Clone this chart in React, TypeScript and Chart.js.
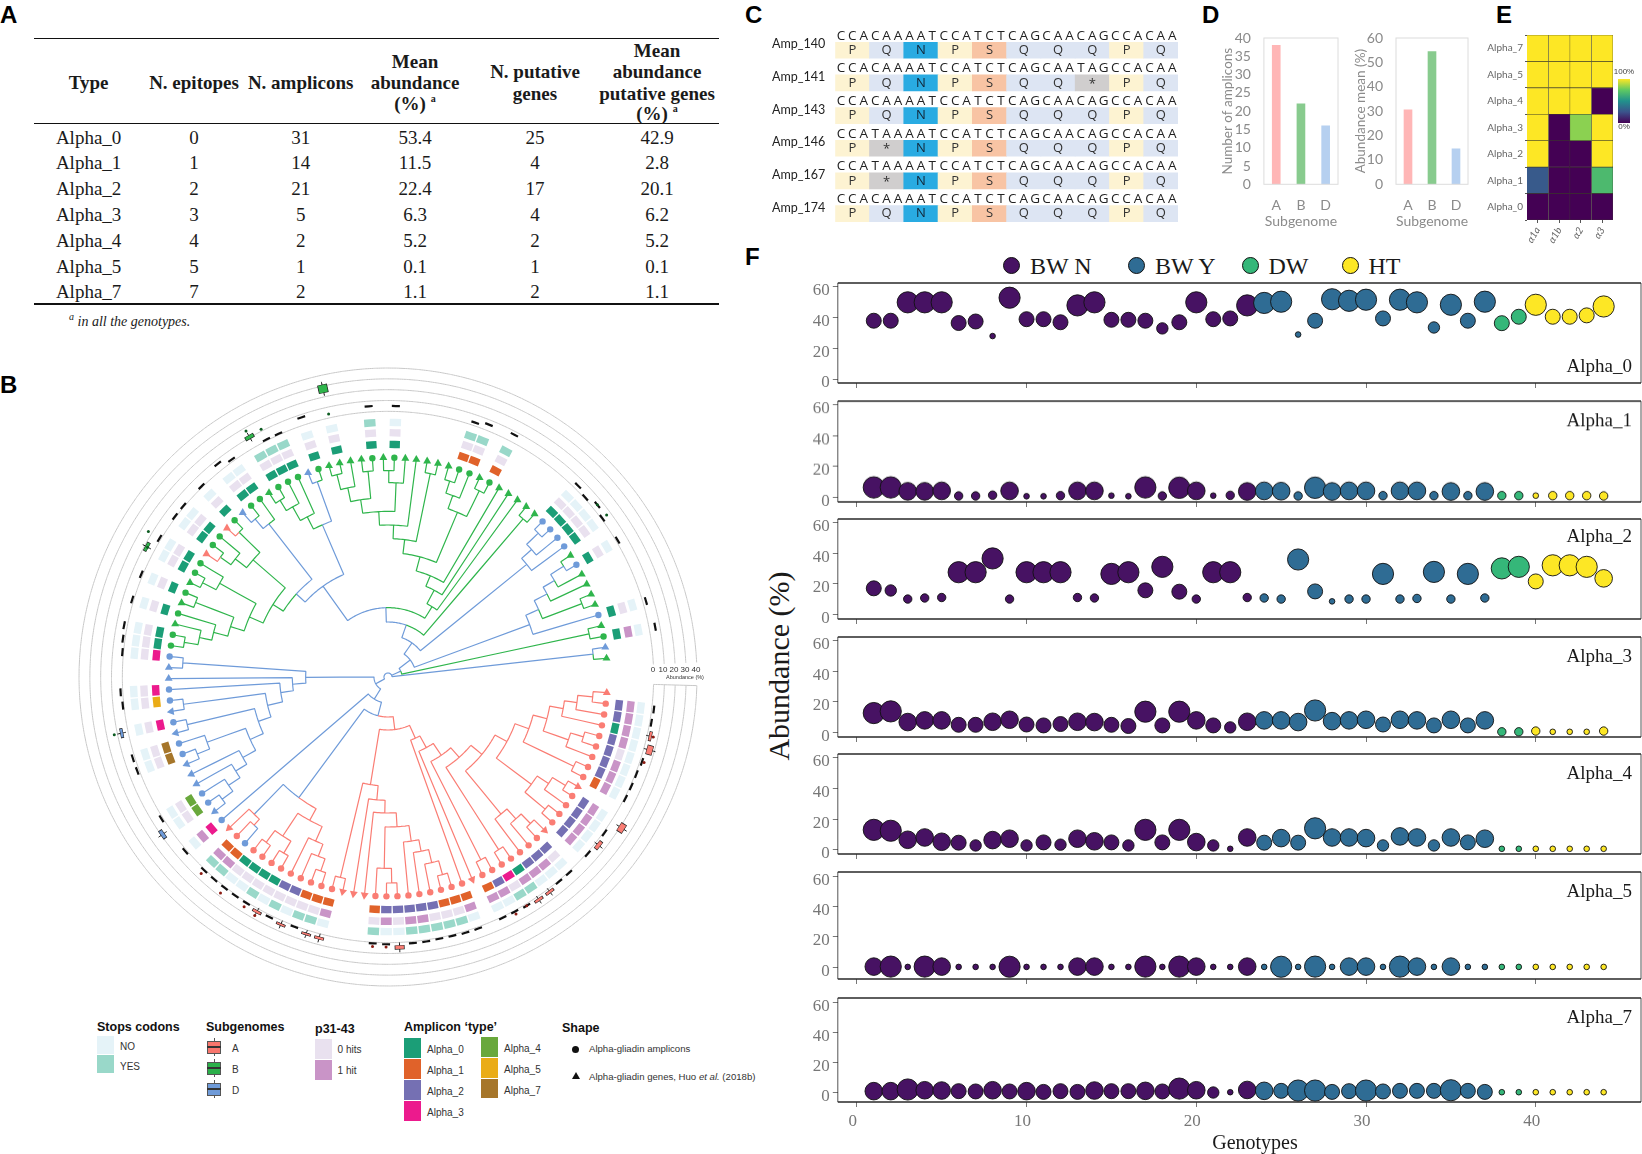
import React, { useEffect, useRef } from 'react';
import { Chart, registerables } from 'chart.js';
Chart.register(...registerables);

/* ---------- Panel A: table ---------- */
const tableTypes = ['Alpha_0', 'Alpha_1', 'Alpha_2', 'Alpha_3', 'Alpha_4', 'Alpha_5', 'Alpha_7'];
const tableEpitopes = ['0', '1', '2', '3', '4', '5', '7'];
const tableAmplicons = ['31', '14', '21', '5', '2', '1', '2'];
const tableMean = ['53.4', '11.5', '22.4', '6.3', '5.2', '0.1', '1.1'];
const tableGenes = ['25', '4', '17', '4', '2', '1', '2'];
const tableGenesMean = ['42.9', '2.8', '20.1', '6.2', '5.2', '0.1', '1.1'];

/* ---------- Panel C: alignment ---------- */
const ampNames = ['Amp_140', 'Amp_141', 'Amp_143', 'Amp_146', 'Amp_167', 'Amp_174'];
const dnaRows = [
  'CCACAAAATCCATCTCAGCAACAGCCACAA',
  'CCACAAAATCCATCTCAGCAATAGCCACAA',
  'CCACAAAATCCATCTCAGCAACAGCCACAA',
  'CCATAAAATCCATCTCAGCAACAGCCACAA',
  'CCATAAAATCCATCTCAGCAACAGCCACAA',
  'CCACAAAATCCATCTCAGCAACAGCCACAA',
];
const proteinRows = ['PQNPSQQQPQ', 'PQNPSQQ*PQ', 'PQNPSQQQPQ', 'P*NPSQQQPQ', 'P*NPSQQQPQ', 'PQNPSQQQPQ'];

/* ---------- Panel D ---------- */
const subgenomes = ['A', 'B', 'D'];
const ampliconCounts = [38, 22, 16];
const abundanceMeans = [30.5, 54.4, 14.5];

/* ---------- Panel E ---------- */
const heatRows = ['Alpha_7', 'Alpha_5', 'Alpha_4', 'Alpha_3', 'Alpha_2', 'Alpha_1', 'Alpha_0'];
const heatCols = ['α1a', 'α1b', 'α2', 'α3'];
const heatA1a = [100, 100, 100, 100, 100, 28, 0];
const heatA1b = [100, 100, 100, 0, 0, 0, 0];
const heatA2 = [100, 100, 100, 82, 0, 0, 0];
const heatA3 = [100, 100, 0, 100, 100, 68, 0];

/* ---------- Panel F: bubbles (value and size class per genotype) ---------- */
const genotypes = [1,2,3,4,5,6,7,8,9,10,11,12,13,14,15,16,17,18,19,20,21,22,23,24,25,26,27,28,29,30,31,32,33,34,35,36,37,38,39,40,41,42,43,44];
const alpha0Values = [38,38,50,50,50,36.5,37.5,28,53,39, 39,37,48,50,38.6,38.6,38,33,37,50, 39,39.5,48,49.6,50.4,29,38,52,51,51.7, 39.5,51.7,50,33.6,48.4,38,50.4,36.4,40.6,48.4, 40.6,40.6,41.5,47.3];
const alpha0Classes = [5,5,7,7,7,5,5,2,7,5, 5,5,7,7,5,5,5,4,5,7, 5,5,7,7,7,2,5,7,7,7, 5,7,7,4,7,5,7,5,5,7, 5,5,5,7];
const alpha1Values = [6.5,6.5,4,4,4.3,1,1,1.5,4.3,.8, .8,1.2,4.3,4.3,1.2,.8,6.5,1,6.3,4.3, 1.2,1.4,3.9,4.3,4.1,1,6.3,3.9,4.3,4.3, 1.2,4.3,4.3,1.2,3.9,1.2,3.9,1.2,1.2,1.2, 1.2,1.2,1.2,1];
const alpha1Classes = [7,7,6,6,6,3,3,3,6,2, 2,3,6,6,2,2,7,3,7,6, 2,3,6,6,6,3,7,6,6,6, 3,6,6,3,6,3,6,3,3,2, 3,3,3,3];
const alpha2Values = [17,15.6,10,10.7,11,27.5,27.5,36.5,10,27.5, 27.5,27.5,11,10.7,26.4,27.5,15.7,31,14.8,10, 27.5,27.5,11,10.7,10,35.8,15,8.5,10,10, 26.4,10,10.4,27.7,10,26.4,10.7,30,31,21.5, 32,32,31,23.5];
const alpha2Classes = [5,4,3,3,3,7,7,7,3,7, 7,7,3,3,7,7,5,7,5,3, 7,7,3,3,3,7,5,2,3,3, 7,3,3,7,3,7,3,7,7,5, 7,7,7,6];
const alpha3Values = [12.7,13.8,6.8,7.9,7.9,5,5,7,8.3,5.2, 4.6,5.5,7,6.8,5,4.2,13.6,4.6,13.6,7.9, 4.6,3.3,7,7.9,7.9,6.8,14.4,7.4,7.9,8.3, 5.2,8.3,7.9,4.6,8.3,4.6,7.9,.4,.4,.9, .4,.4,.4,.9];
const alpha3Classes = [7,7,6,6,6,5,5,6,6,5, 5,5,6,6,5,5,7,5,7,6, 5,4,6,6,6,6,7,6,6,6, 5,6,6,5,6,5,6,3,3,3, 2,2,2,3];
const alpha4Values = [13,12.4,6.5,8,5.2,4.6,2.8,6.3,7.2,2.8, 4.8,3.3,7.2,5.5,4.8,2.8,13,4.8,13,5, 2.8,.6,8,4.6,7.6,4.6,14,8,8,7.6, 2.8,8.7,8,2.8,8,4.8,7.2,.6,.6,.6, .6,.6,.6,.6];
const alpha4Classes = [7,7,6,6,6,5,4,6,6,4, 5,4,6,6,5,4,7,5,7,6, 4,2,6,5,6,5,7,6,6,6, 4,6,6,4,6,5,6,2,2,2, 2,2,2,2];
const alpha5Values = [.4,.4,.2,.4,.4,.2,.2,.2,.3,.2, .2,.2,.4,.4,.2,.2,.4,.2,.4,.4, .2,.2,.4,.2,.3,.2,.4,.2,.4,.4, .2,.4,.4,.2,.4,.2,.2,.2,.2,.2, .2,.2,.2,.2];
const alpha5Classes = [6,7,2,7,6,2,2,2,7,2, 2,2,6,6,2,2,7,2,7,6, 2,2,6,2,7,2,7,2,6,6, 2,7,6,2,6,2,2,2,2,2, 2,2,2,2];
const alpha7Values = [.9,.9,2,1.5,1.3,.9,.7,1.5,.7,.9, .4,.9,.4,1.3,.9,.9,1.1,.7,2.6,1.5, 0,.2,1.7,1.1,1.1,1.3,1.3,.4,.9,1.3, .7,1.1,1.1,1.1,1.5,1.1,.4,.2,.2,.2, .2,.2,.2,.2];
const alpha7Classes = [6,6,7,6,6,5,5,6,5,6, 5,5,5,6,5,5,6,5,7,6, 4,2,6,6,5,7,7,5,5,7, 5,5,5,5,7,5,5,2,2,2, 2,2,2,2];
const genotypeGroups = ['BW N', 'BW Y', 'DW', 'HT'];
const groupFirstGenotype = [1, 24, 38, 40];

/* ---------- Panel B: tree tips, rings, box plots ---------- */
const tipClade = 'rrrrrrrrrr' + 'rrrrrrrrrr' + 'rrrrrrrrrr' + 'rrrrrrrrrr' + 'rrrrbrrbbb' + 'bbbbbbbbbb' + 'bbbbgggggg' + 'gggrggrgbg' + 'gggggbgggg' + 'gggggggggg' + 'ggggggggbb' + 'bbgbggggbg' + 'gbg';
const tipShape = 'TCCCCCCCCT' + 'CCCCTCCCCC' + 'CCTCCCCCCC' + 'CCTTTCCCCC' + 'CCCCCCTCTC' + 'CTTTCCTCTC' + 'CTTCCCTCTC' + 'TCCTCCTCTC' + 'CTCCCTCTTT' + 'TCTCTTTTTC' + 'CTCTTTTTCC' + 'CCTCTTTTCT' + 'CTT';
const typeRing = '.22022221.' + '2222.22203' + '21.1112222' + '21...11122' + '000011.3.4' + '4...77.3.5' + '3..300.0.0' + '.00.00.0.0' + '0.000.0.0.' + '.0.0.....1' + '1.1.....00' + '00.0....0.' + '0..';
const pepRing = '.11110111.' + '1111.01110' + '11.1000110' + '10...10000' + '000011.1.0' + '0...00.0.0' + '0..000.0.0' + '.00.00.0.0' + '0.000.0.0.' + '.0.0.....0' + '0.0.....00' + '00.0....0.' + '1..';
const stopRing = '.00000000.' + '0000.00011' + '00.0111110' + '01...01101' + '010011.0.0' + '0...00.0.0' + '0..000.0.0' + '.00.00.0.0' + '0.111.0.0.' + '.1.0.....1' + '1.1.....00' + '00.0....0.' + '0..';
const boxMedian = [
  0,2,1.5,3,5,2,1,1,1,0, 11.5,1,3.3,1,0,1,1,3,3,1.7, 1,1,0,1.5,1.5,1,1,1.5,1.5,4.5,
  1.5,1,0,0,0,4,3.7,1,3.7,2, 3,1,1,1,1,1,0,1.5,0,8.6, 1.5,0,0,0,2,2,0,6,0,1,
  2,0,0,1,2,3,0,1.5,0,1.5, 0,7.8,1.5,0,1,1,0,1,0,6.6, 2,0,10.6,1,1,0,7.4,0,27,0,
  0,5.3,0,5,0,0,0,0,0,3, 5.7,0,7,0,0,0,0,0,3.7,1, 5,1,0,1.5,0,0,0,0,3,0, 5.7,0,0,
];
const boxTips = [88, 82, 49, 57, 71, 3, 4, 10, 12, 17, 18, 29, 35, 36, 38, 40];
const boxLow = [24, 9, 7, 5, 6.5, 2, 3, 9, 2, 2, 2, 3, 3, 3, 3, 2];
const boxHigh = [31, 12, 10, 7, 9, 4, 8, 14, 5, 4, 4, 6, 5, 4.5, 4.5, 4];
const outlierTips = [83, 82, 88, 72, 71, 111, 110, 31, 30, 43, 45, 40, 41, 5, 3, 20, 19, 57];
const outlierValues = [11.8, 17, 3.7, 13.5, 7, 6, 5, 4, 4, 7, 5, 7, 5, 4, 5.7, 3.5, 1.7, 13];
const abundanceTicks = [0, 10, 20, 30, 40];

/* Tree: [optional clade letter, branching depth, ...children]; a number child is a tip */
const redLeft = [327,[618,35,34],[370,33,[408,32,[450,[574,31,[618,30,29]],[497,28,[532,27,[572,26,[615,25,24]]]]]]]];
const redRightA = [450,[493,[534,[572,[617,0,1],2],3],[573,[613,4,5],6]],[618,7,8]];
const redRightB = [537,[578,[624,9,10],11],[616,12,13]];
const redUpper = [365,[406,redRightA,redRightB],[533,[573,[613,14,15],16],17]];
const redCore = ['r',159,[201,[241,[284,[322,redUpper,[615,18,19]],[615,20,21]],22],23],redLeft];
const midClade = ['b',450,['b',575,46,['r',599,45,44]],['r',490,[572,[616,43,42],[614,41,40]],[538,39,[577,38,[616,37,36]]]]];
const betaNode = ['b',120,midClade,redCore];
const alphaNode = ['b',78,47,betaNode];
const blueLeft = ['b',247,[617,63,62],[287,61,[325,60,[371,[619,59,58],[411,[619,57,56],[454,[577,55,[617,54,53]],[498,52,[537,51,[578,50,[618,49,48]]]]]]]]]];
const gammaNode = ['b',42,blueLeft,alphaNode];
const greenUpper = ['g',497,[538,[580,[626,87,88],89],[620,90,91]],[583,[619,92,93],94]];
const green373 = [373,[415,[456,greenUpper,95],[623,96,97]],[536,[578,[616,98,99],100],[622,101,102]]];
const green249 = ['g',249,[295,[329,green373,103],104],105];
const green453 = [453,[578,[624,70,71],72],[496,[540,[578,[620,64,65],66],67],[619,68,69]]];
const green408 = ['g',408,green453,[536,[579,[618,73,74],75],[623,76,77]]];
const blue371 = ['b',371,green408,['b',582,['b',619,78,79],80]];
const blue497 = ['b',497,['g',538,84,[585,83,[621,81,82]]],['b',623,85,86]];
const node208 = ['b',208,['b',335,blue371,blue497],green249];
const node165 = ['b',165,node208,['g',624,106,107]];
const node125 = ['b',125,node165,['b',536,[576,[624,108,109],110],111]];
const node84 = ['b',84,node125,['b',453,[495,[538,[577,[623,112,113],114],115],['g',622,116,117]],118]];
const node42 = ['b',42,node84,['g',617,119,120]];
const treeRoot = ['b',12,gammaNode,node42,['b',619,121,122]];

/* ---------- Styles ---------- */
const SERIF = '"Liberation Serif", serif';
const SANS = '"Liberation Sans", Arial, sans-serif';
const CLADE = { r: '#fa7d74', g: '#2fb54c', b: '#6f9bd9' };
const TYPE_COLORS = { 0: '#1b9e77', 1: '#e0622a', 2: '#7570b3', 3: '#ec1a8d', 4: '#69a83c', 5: '#eaac17', 7: '#a6762a' };
const PEP_COLORS = { 0: '#e9e1ef', 1: '#c994c7' };
const STOP_COLORS = { 0: '#e5f3f8', 1: '#99d8c9' };
const AA_COLORS = { P: '#fdf3d2', Q: '#dde5f3', N: '#29abe2', S: '#f8c4a4', '*': '#d0cece' };
const GROUP_COLORS = ['#471263', '#2f6c94', '#35b779', '#fde725'];
const CLASS_RADIUS = { 1: 1.6, 2: 2.8, 3: 4.2, 4: 5.7, 5: 7.5, 6: 8.8, 7: 10.6 };
const VIRIDIS = [[68,1,84],[59,82,139],[33,145,140],[94,201,98],[253,231,37]];

function viridis(v) {
  const t = Math.max(0, Math.min(0.9999, v / 100)) * 4;
  const i = Math.floor(t);
  const f = t - i;
  const c = VIRIDIS[i].map((a, k) => Math.round(a + (VIRIDIS[i + 1][k] - a) * f));
  return `rgb(${c[0]},${c[1]},${c[2]})`;
}

/* Fixes an axis thickness so the plot rectangle lands where the layout asks. */
const fixAxis = (size) => (s) => {
  if (s.isHorizontal()) s.height = size; else s.width = size;
  s.paddingTop = 0; s.paddingBottom = 0; s.paddingLeft = 0; s.paddingRight = 0;
};

/* ---------- Panel B config ---------- */
const TIP_DEPTH = 658;
const TYPE_DEPTH = 698, PEP_DEPTH = 733, STOP_DEPTH = 764;
const RING0 = 797, RING_PER_UNIT = 3.25;
const tipAngle = (i) => 4.1 + i * 2.877;
const pol = (deg, r) => ({ x: r * Math.cos(deg * Math.PI / 180), y: r * Math.sin(deg * Math.PI / 180) });
const GAP = { x: NaN, y: NaN };
const ringR = (v) => RING0 + v * RING_PER_UNIT;

function buildTree() {
  const edges = { r: [], g: [], b: [] };
  const arc = (a, b, r) => {
    const n = Math.max(1, Math.ceil(Math.abs(b - a) / 2));
    const out = [];
    for (let i = 0; i <= n; i++) out.push(pol(a + (b - a) * i / n, r));
    return out;
  };
  const layout = (node, inherited) => {
    if (typeof node === 'number') return { angle: tipAngle(node), r: TIP_DEPTH, clade: tipClade[node], kids: [] };
    const off = typeof node[0] === 'string' ? 1 : 0;
    const clade = off ? node[0] : inherited;
    const kids = node.slice(off + 1).map((c) => layout(c, clade));
    const as = kids.map((k) => k.angle);
    return { angle: (Math.min(...as) + Math.max(...as)) / 2, r: node[off], clade, kids };
  };
  const walk = (n) => {
    n.kids.forEach((k) => {
      const pts = [...arc(n.angle, k.angle, n.r), pol(k.angle, k.r)];
      edges[k.clade].push(...pts, GAP);
      walk(k);
    });
  };
  walk(layout(treeRoot, 'b'));
  return edges;
}

function tangential(list, deg, r, half) {
  list.push(pol(deg - half, r), pol(deg + half, r), GAP);
}

function ringDatasets(ring, colors, depth, width) {
  const groups = {};
  for (let i = 0; i < ring.length; i++) {
    if (ring[i] === '.') continue;
    (groups[ring[i]] = groups[ring[i]] || []);
    tangential(groups[ring[i]], tipAngle(i), depth, 1.28);
  }
  return Object.keys(groups).map((k) => lineSet(groups[k], colors[k], width));
}

function lineSet(data, color, width) {
  return { type: 'scatter', data, showLine: true, spanGaps: false, borderColor: color, backgroundColor: color, borderWidth: width, pointRadius: 0, borderCapStyle: 'butt', borderJoinStyle: 'bevel', tension: 0.0001, clip: false };
}

function treeConfig() {
  const edges = buildTree();
  const tips = tipClade.split('').map((_, i) => pol(tipAngle(i), TIP_DEPTH));
  const rings = [];
  abundanceTicks.forEach((v) => {
    for (let a = 1.6; a <= 357.3; a += 2) rings.push(pol(a, ringR(v)));
    rings.push(pol(357.3, ringR(v)), GAP);
  });
  const bracket = [pol(1.6, ringR(0)), pol(1.6, ringR(40))];
  const dashes = [];
  boxMedian.forEach((v, i) => { if (typeMask(i)) tangential(dashes, tipAngle(i), ringR(v), 0.85); });
  const whiskers = [], outlines = [], boxSets = [];
  boxTips.forEach((t, i) => {
    const a = tipAngle(t);
    whiskers.push(pol(a, ringR(boxLow[i]) - 10), pol(a, ringR(boxHigh[i]) + 10), GAP);
    outlines.push(pol(a, ringR(boxLow[i]) - 1.5), pol(a, ringR(boxHigh[i]) + 1.5), GAP);
    boxSets.push(lineSet([pol(a, ringR(boxLow[i])), pol(a, ringR(boxHigh[i]))], CLADE[tipClade[t]], 8.5));
  });
  const outliers = outlierTips.map((t, i) => pol(tipAngle(t), ringR(outlierValues[i])));
  return {
    type: 'scatter',
    data: {
      datasets: [
        {
          data: tips,
          pointStyle: tipShape.split('').map((s) => (s === 'T' ? 'triangle' : 'circle')),
          pointRadius: tipShape.split('').map((s) => (s === 'T' ? 4.6 : 3.2)),
          pointRotation: tipClade.split('').map((_, i) => (i > 0 && i < 61 && tipShape[i] === 'T' ? tipAngle(i) + 90 : 0)),
          backgroundColor: tipClade.split('').map((c) => CLADE[c]),
          borderWidth: 0,
          showLine: false,
          clip: false,
        },
        lineSet(edges.r, CLADE.r, 1.2),
        lineSet(edges.g, CLADE.g, 1.2),
        lineSet(edges.b, CLADE.b, 1.2),
        { data: outliers, pointRadius: 1.5, backgroundColor: outlierTips.map((t) => (tipClade[t] === 'r' ? '#8c1c13' : '#0d5c22')), borderWidth: 0, showLine: false, clip: false },
        ...boxSets,
        lineSet(outlines, '#222', 10),
        lineSet(whiskers, '#111', 1),
        lineSet(dashes, '#111', 2.2),
        ...ringDatasets(typeRing, TYPE_COLORS, TYPE_DEPTH, 7.4),
        ...ringDatasets(pepRing, PEP_COLORS, PEP_DEPTH, 7.4),
        ...ringDatasets(stopRing, STOP_COLORS, STOP_DEPTH, 7.4),
        lineSet(bracket, '#c8c8c8', 1),
        lineSet(rings, '#c8c8c8', 1),
      ],
    },
    options: {
      animation: false, responsive: false,
      plugins: { legend: { display: false }, tooltip: { enabled: false } },
      layout: { padding: 0, autoPadding: false },
      scales: {
        x: { type: 'linear', min: -990, max: 990, display: false },
        y: { type: 'linear', min: -990, max: 990, reverse: true, display: false },
      },
    },
  };
}
const typeMask = (i) => typeRing[i] !== '.';

/* ---------- Panel C config ---------- */
function alignmentConfig() {
  const rowTop = 0.376, rowBottom = 0.865;
  const textPlugin = {
    id: 'alignmentText',
    afterDatasetsDraw(chart) {
      const { ctx, scales: { x, y }, chartArea } = chart;
      const band = x.getPixelForValue(1) - x.getPixelForValue(0);
      ctx.save();
      ctx.textBaseline = 'middle';
      ampNames.forEach((name, r) => {
        ctx.textAlign = 'right'; ctx.fillStyle = '#222'; ctx.font = '12.5px Lato';
        ctx.fillText(name, chartArea.left - 10, y.getPixelForValue(r + 0.44));
        ctx.textAlign = 'center'; ctx.font = '13.5px "Open Sans"';
        dnaRows[r].split('').forEach((nt, j) => {
          const c = Math.floor(j / 3);
          ctx.fillText(nt, x.getPixelForValue(c) + (j % 3 - 1) * band / 3, y.getPixelForValue(r + 0.174));
        });
        ctx.font = '13px "Open Sans"';
        proteinRows[r].split('').forEach((aa, c) => {
          ctx.fillStyle = aa === 'N' ? '#123' : '#333';
          ctx.fillText(aa, x.getPixelForValue(c), y.getPixelForValue(r + (rowTop + rowBottom) / 2 + (aa === '*' ? 0.04 : 0)));
        });
      });
      ctx.restore();
    },
  };
  return {
    type: 'bar',
    data: {
      labels: proteinRows[0].split('').map((_, i) => String(i + 1)),
      datasets: proteinRows.map((row, r) => ({
        data: row.split('').map(() => [r + rowTop, r + rowBottom]),
        backgroundColor: row.split('').map((aa) => AA_COLORS[aa]),
        borderWidth: 0,
        barPercentage: 1,
        categoryPercentage: 1,
        grouped: false,
      })),
    },
    options: {
      animation: false, responsive: false,
      layout: { padding: { left: 75.2, right: 2, top: 5, bottom: 4 }, autoPadding: false },
      plugins: { legend: { display: false }, tooltip: { enabled: false } },
      scales: {
        x: { display: false },
        y: { type: 'linear', min: 0, max: 6, reverse: true, display: false },
      },
    },
    plugins: [textPlugin],
  };
}

/* ---------- Panel D config ---------- */
const framePlugin = (color, width) => ({
  id: 'frame',
  afterDatasetsDraw(chart) {
    const { ctx, chartArea: a } = chart;
    ctx.save();
    ctx.strokeStyle = color; ctx.lineWidth = width;
    ctx.strokeRect(a.left, a.top, a.right - a.left, a.bottom - a.top);
    ctx.restore();
  },
});

function subgenomeConfig(values, title, yMax, step, axisWidth) {
  return {
    type: 'bar',
    data: { labels: subgenomes, datasets: [{ data: values, backgroundColor: ['#ffb6b6', '#88cb8e', '#b6d0f0'], barThickness: 8, borderWidth: 0 }] },
    options: {
      animation: false, responsive: false,
      layout: { padding: { top: 10, right: 2, left: 0, bottom: 0 }, autoPadding: false },
      plugins: { legend: { display: false }, tooltip: { enabled: false } },
      scales: {
        x: {
          grid: { display: false }, border: { display: false },
          ticks: { color: '#8b8b8b', font: { family: 'Lato', size: 14 }, padding: 5 },
          title: { display: true, text: 'Subgenome', color: '#8b8b8b', font: { family: 'Lato', size: 14 }, padding: { top: 4, bottom: 3 } },
          afterFit: fixAxis(48.7),
        },
        y: {
          min: 0, max: yMax,
          grid: { display: false }, border: { display: false },
          ticks: { stepSize: step, autoSkip: false, color: '#8b8b8b', font: { family: 'Lato', size: 14 }, padding: 5 },
          title: { display: true, text: title, color: '#8b8b8b', font: { family: 'Lato', size: 13.5 }, padding: { top: 2, bottom: 2 } },
          afterFit: fixAxis(axisWidth),
        },
      },
    },
    plugins: [framePlugin('#dcdcdc', 1)],
  };
}

/* ---------- Panel E config ---------- */
function heatmapConfig() {
  const cols = [heatA1a, heatA1b, heatA2, heatA3];
  return {
    type: 'bar',
    data: {
      labels: heatRows,
      datasets: cols.map((vals, c) => ({
        data: vals.map(() => [c, c + 1]),
        backgroundColor: vals.map((v) => viridis(v)),
        borderColor: '#3a3a2a', borderWidth: 0.6,
        barPercentage: 1, categoryPercentage: 1, grouped: false,
      })),
    },
    options: {
      indexAxis: 'y', animation: false, responsive: false,
      layout: { padding: { top: 10, right: 2, left: 0, bottom: 0 }, autoPadding: false },
      plugins: { legend: { display: false }, tooltip: { enabled: false } },
      scales: {
        x: {
          type: 'linear', min: 0, max: 4,
          grid: { drawOnChartArea: false, tickLength: 3, tickColor: '#555' }, border: { display: false },
          afterBuildTicks: (s) => { s.ticks = heatCols.map((_, i) => ({ value: i + 0.5 })); },
          ticks: { autoSkip: false, minRotation: 60, maxRotation: 60, padding: 2, color: '#666', font: { family: 'Lato', size: 10, style: 'italic' }, callback: (v) => heatCols[Math.floor(v)] },
          afterFit: fixAxis(35),
        },
        y: {
          grid: { drawOnChartArea: false, tickLength: 2, tickColor: '#555' }, border: { display: false },
          ticks: { color: '#666', font: { family: 'Lato', size: 10 }, padding: 2 },
          afterFit: fixAxis(57),
        },
      },
    },
  };
}

/* ---------- Panel F config ---------- */
function bubbleConfig(values, classes, panel, name, last) {
  const sets = genotypeGroups.map((g, i) => {
    const from = groupFirstGenotype[i];
    const to = i < 3 ? groupFirstGenotype[i + 1] : 45;
    return {
      label: g,
      data: genotypes.map((x, k) => ({ x, y: values[k], r: CLASS_RADIUS[classes[k]] })).filter((p) => p.x >= from && p.x < to),
      backgroundColor: GROUP_COLORS[i],
      borderColor: '#111',
      borderWidth: 0.9,
      clip: false,
    };
  }).reverse();
  const namePlugin = {
    id: 'facetName',
    afterDatasetsDraw(chart) {
      const { ctx, chartArea: a } = chart;
      ctx.save();
      ctx.strokeStyle = '#2a2a2a'; ctx.lineWidth = 1.4;
      ctx.beginPath(); ctx.moveTo(a.left, a.top); ctx.lineTo(a.right, a.top); ctx.moveTo(a.left, a.bottom); ctx.lineTo(a.right, a.bottom); ctx.stroke();
      ctx.lineWidth = 0.8;
      ctx.beginPath(); ctx.moveTo(a.left, a.top); ctx.lineTo(a.left, a.bottom); ctx.moveTo(a.right, a.top); ctx.lineTo(a.right, a.bottom); ctx.stroke();
      ctx.fillStyle = '#1a1a1a'; ctx.font = `19px ${SERIF}`; ctx.textAlign = 'right'; ctx.textBaseline = 'middle';
      ctx.fillText(name, 1632 - 800, panel.labelY - (panel.top - 10));
      ctx.restore();
    },
  };
  return {
    type: 'bubble',
    data: { datasets: sets },
    options: {
      animation: false, responsive: false,
      layout: { padding: { top: 10, left: 0, right: 1, bottom: 0 }, autoPadding: false },
      plugins: { legend: { display: false }, tooltip: { enabled: false } },
      scales: {
        x: {
          type: 'linear', min: -1.12, max: 46.2,
          grid: { drawOnChartArea: false, tickLength: 5, tickColor: '#777' }, border: { display: false },
          ticks: { stepSize: 10, includeBounds: false, display: !!last, color: '#777', maxRotation: 0, padding: 4, labelOffset: -4, font: { family: SERIF, size: 17 } },
          afterFit: fixAxis(last ? 52 : 9),
        },
        y: {
          type: 'linear', min: panel.min, max: panel.max,
          grid: { drawOnChartArea: false, tickLength: 5, tickColor: '#777' }, border: { display: false },
          ticks: { stepSize: 20, includeBounds: false, color: '#777', padding: 3, labelOffset: 4, font: { family: SERIF, size: 17 } },
          afterFit: fixAxis(37.8),
        },
      },
    },
    plugins: [namePlugin],
  };
}

const PANELS = [
  { name: 'Alpha_0', top: 283.3, h: 100, min: -2.6, max: 62.6, labelY: 367, values: alpha0Values, classes: alpha0Classes },
  { name: 'Alpha_1', top: 401.3, h: 100.4, min: -2.9, max: 62.4, labelY: 421.7, values: alpha1Values, classes: alpha1Classes },
  { name: 'Alpha_2', top: 519.3, h: 100, min: -3, max: 62.2, labelY: 537.7, values: alpha2Values, classes: alpha2Classes },
  { name: 'Alpha_3', top: 636.7, h: 100, min: -3, max: 62.6, labelY: 656.7, values: alpha3Values, classes: alpha3Classes },
  { name: 'Alpha_4', top: 754.3, h: 100, min: -2.8, max: 62.6, labelY: 774, values: alpha4Values, classes: alpha4Classes },
  { name: 'Alpha_5', top: 872.3, h: 107, min: -7.8, max: 63, labelY: 892.7, values: alpha5Values, classes: alpha5Classes },
  { name: 'Alpha_7', top: 997.7, h: 104, min: -6.3, max: 62.7, labelY: 1018, values: alpha7Values, classes: alpha7Classes },
];

/* ---------- Small React helpers ---------- */
function ChartBox({ left, top, width, height, make }) {
  const ref = useRef(null);
  useEffect(() => {
    const chart = new Chart(ref.current, make());
    return () => chart.destroy();
  }, []);
  return <canvas ref={ref} width={width} height={height} style={{ position: 'absolute', left, top, width, height }} />;
}

function T({ x, y, children, align = 'center', size = 19, family = SERIF, bold = false, italic = false, color = '#1a1a1a', rotate = 0 }) {
  const tx = align === 'center' ? '-50%' : align === 'right' ? '-100%' : '0';
  return (
    <div style={{ position: 'absolute', left: x, top: y, whiteSpace: 'nowrap', lineHeight: 1, fontFamily: family, fontSize: size, fontWeight: bold ? 700 : 400, fontStyle: italic ? 'italic' : 'normal', color, transform: `translate(${tx},-50%)${rotate ? ` rotate(${rotate}deg)` : ''}` }}>
      {children}
    </div>
  );
}

const Rect = ({ x, y, w, h, c, extra = {} }) => <div style={{ position: 'absolute', left: x, top: y, width: w, height: h, background: c, ...extra }} />;

const Letter = ({ x, y, children }) => <T x={x} y={y} align="left" size={24} family={SANS} bold color="#000">{children}</T>;

const sup = (t) => <sup style={{ fontSize: 10, lineHeight: 0 }}>{t}</sup>;

function MiniBox({ x, y, c }) {
  return (
    <>
      <Rect x={x - 0.5} y={y - 9} w={1} h={18} c="#555" />
      <Rect x={x - 7} y={y - 6.5} w={14} h={13} c={c} extra={{ border: '1px solid #555', boxSizing: 'border-box' }} />
      <Rect x={x - 7} y={y - 1} w={14} h={2} c="#333" />
    </>
  );
}

function TablePanel() {
  const cols = [88.6, 194, 300.7, 415, 535, 657];
  const rowY = [137, 162, 188, 214, 240, 266, 291];
  const columns = [tableTypes, tableEpitopes, tableAmplicons, tableMean, tableGenes, tableGenesMean];
  return (
    <>
      <Rect x={33.5} y={37.5} w={685} h={1.8} c="#111" />
      <Rect x={33.5} y={122.5} w={685} h={1.8} c="#111" />
      <Rect x={33.5} y={303.2} w={685} h={1.8} c="#111" />
      <T x={cols[0]} y={82} bold>Type</T>
      <T x={cols[1]} y={82} bold>N. epitopes</T>
      <T x={cols[2]} y={82} bold>N. amplicons</T>
      <T x={cols[3]} y={60.7} bold>Mean</T>
      <T x={cols[3]} y={81.7} bold>abundance</T>
      <T x={cols[3]} y={103} bold>(%) {sup('a')}</T>
      <T x={cols[4]} y={71.3} bold>N. putative</T>
      <T x={cols[4]} y={92.7} bold>genes</T>
      <T x={cols[5]} y={50} bold>Mean</T>
      <T x={cols[5]} y={71.3} bold>abundance</T>
      <T x={cols[5]} y={92.7} bold>putative genes</T>
      <T x={cols[5]} y={113.3} bold>(%) {sup('a')}</T>
      {columns.map((col, c) => col.map((v, r) => <T key={`${c}-${r}`} x={cols[c]} y={rowY[r]}>{v}</T>))}
      <T x={69} y={322} align="left" size={14} italic>{sup('a')} in all the genotypes.</T>
    </>
  );
}

function TreeLegend() {
  const small = { size: 10, family: SANS, color: '#333' };
  const title = { size: 12.5, family: SANS, bold: true, color: '#111', align: 'left' };
  const typeKeys = [0, 1, 2, 3];
  const typeKeys2 = [4, 5, 7];
  return (
    <>
      <T x={97} y={1027} {...title}>Stops codons</T>
      <Rect x={97} y={1036} w={16.5} h={17.5} c={STOP_COLORS[0]} />
      <Rect x={97} y={1055} w={16.5} h={17.5} c={STOP_COLORS[1]} />
      <T x={120} y={1046.7} align="left" {...small}>NO</T>
      <T x={120} y={1066.7} align="left" {...small}>YES</T>

      <T x={206} y={1027} {...title}>Subgenomes</T>
      <MiniBox x={214} y={1047} c="#f8766d" />
      <MiniBox x={214} y={1068} c="#2bb04a" />
      <MiniBox x={214} y={1089} c="#6f9bd9" />
      <T x={232} y={1049} align="left" {...small}>A</T>
      <T x={232} y={1070} align="left" {...small}>B</T>
      <T x={232} y={1091} align="left" {...small}>D</T>

      <T x={315} y={1029} {...title}>p31-43</T>
      <Rect x={315} y={1039} w={17} h={20} c={PEP_COLORS[0]} />
      <Rect x={315} y={1060} w={17} h={20} c={PEP_COLORS[1]} />
      <T x={337.6} y={1050} align="left" {...small}>0 hits</T>
      <T x={337.6} y={1071} align="left" {...small}>1 hit</T>

      <T x={404} y={1027} {...title}>Amplicon ‘type’</T>
      {typeKeys.map((k, i) => (
        <React.Fragment key={k}>
          <Rect x={404} y={1037.7 + i * 21} w={16.6} h={20} c={TYPE_COLORS[k]} />
          <T x={427} y={1050 + i * 21} align="left" {...small}>{`Alpha_${k}`}</T>
        </React.Fragment>
      ))}
      {typeKeys2.map((k, i) => (
        <React.Fragment key={k}>
          <Rect x={481} y={1037.3 + i * 20.8} w={16.6} h={19.6} c={TYPE_COLORS[k]} />
          <T x={504} y={1049.3 + i * 20.8} align="left" {...small}>{`Alpha_${k}`}</T>
        </React.Fragment>
      ))}

      <T x={562} y={1028} {...title}>Shape</T>
      <Rect x={572} y={1045.5} w={7} h={7} c="#111" extra={{ borderRadius: '50%' }} />
      <div style={{ position: 'absolute', left: 571.5, top: 1072, width: 0, height: 0, borderLeft: '4px solid transparent', borderRight: '4px solid transparent', borderBottom: '7px solid #111' }} />
      <T x={589} y={1049} align="left" {...small} size={9.6}>Alpha-gliadin amplicons</T>
      <T x={589} y={1076.5} align="left" {...small} size={9.6}>Alpha-gliadin genes, Huo <i>et al.</i> (2018b)</T>
    </>
  );
}

function GroupLegend() {
  const xs = [1011.6, 1136.4, 1250, 1350];
  return (
    <>
      {genotypeGroups.map((g, i) => (
        <React.Fragment key={g}>
          <Rect x={xs[i] - 8.5} y={256.5} w={17} h={17} c={GROUP_COLORS[i]} extra={{ borderRadius: '50%', border: '1px solid #111', boxSizing: 'border-box' }} />
          <T x={xs[i] + 18.5} y={266} align="left" size={24}>{g}</T>
        </React.Fragment>
      ))}
    </>
  );
}

export default function App() {
  return (
    <div style={{ position: 'absolute', left: 0, top: 0, width: 1642, height: 1154, background: '#fff', overflow: 'hidden' }}>
      <Letter x={0} y={15}>A</Letter>
      <Letter x={0} y={385}>B</Letter>
      <Letter x={745} y={15}>C</Letter>
      <Letter x={1202} y={15}>D</Letter>
      <Letter x={1496} y={15}>E</Letter>
      <Letter x={745} y={257}>F</Letter>

      <TablePanel />

      <ChartBox left={58} top={347} width={660} height={660} make={treeConfig} />
      {abundanceTicks.map((v, i) => (
        <T key={v} x={[653, 663, 674, 685, 696][i]} y={670} size={8} family={SANS} color="#333">{String(v)}</T>
      ))}
      <T x={685} y={677.5} size={5.5} family={SANS} color="#333">Abundance (%)</T>
      <TreeLegend />

      <ChartBox left={760} top={25} width={420} height={205} make={alignmentConfig} />
      <ChartBox left={1218} top={28} width={122} height={205} make={() => subgenomeConfig(ampliconCounts, 'Number of amplicons', 40, 5, 45.9)} />
      <ChartBox left={1351} top={28} width={119} height={205} make={() => subgenomeConfig(abundanceMeans, 'Abundance mean (%)', 60, 10, 45)} />
      <ChartBox left={1470} top={25} width={145} height={230} make={heatmapConfig} />
      <div style={{ position: 'absolute', left: 1618, top: 79, width: 12, height: 44, background: 'linear-gradient(to top,#440154,#3b528b,#21918c,#5ec962,#fde725)' }} />
      <T x={1624} y={72} size={8} family={SANS} color="#444">100%</T>
      <T x={1624} y={127} size={8} family={SANS} color="#444">0%</T>

      <GroupLegend />
      <T x={779} y={666} size={30} rotate={-90}>Abundance (%)</T>
      {PANELS.map((p, i) => {
        const last = i === PANELS.length - 1;
        const h = 10 + p.h + (last ? 52 : 9);
        return (
          <ChartBox key={p.name} left={800} top={p.top - 10} width={842} height={h}
            make={() => bubbleConfig(p.values, p.classes, p, p.name, last)} />
        );
      })}
      <T x={1255} y={1142} size={20}>Genotypes</T>
    </div>
  );
}
